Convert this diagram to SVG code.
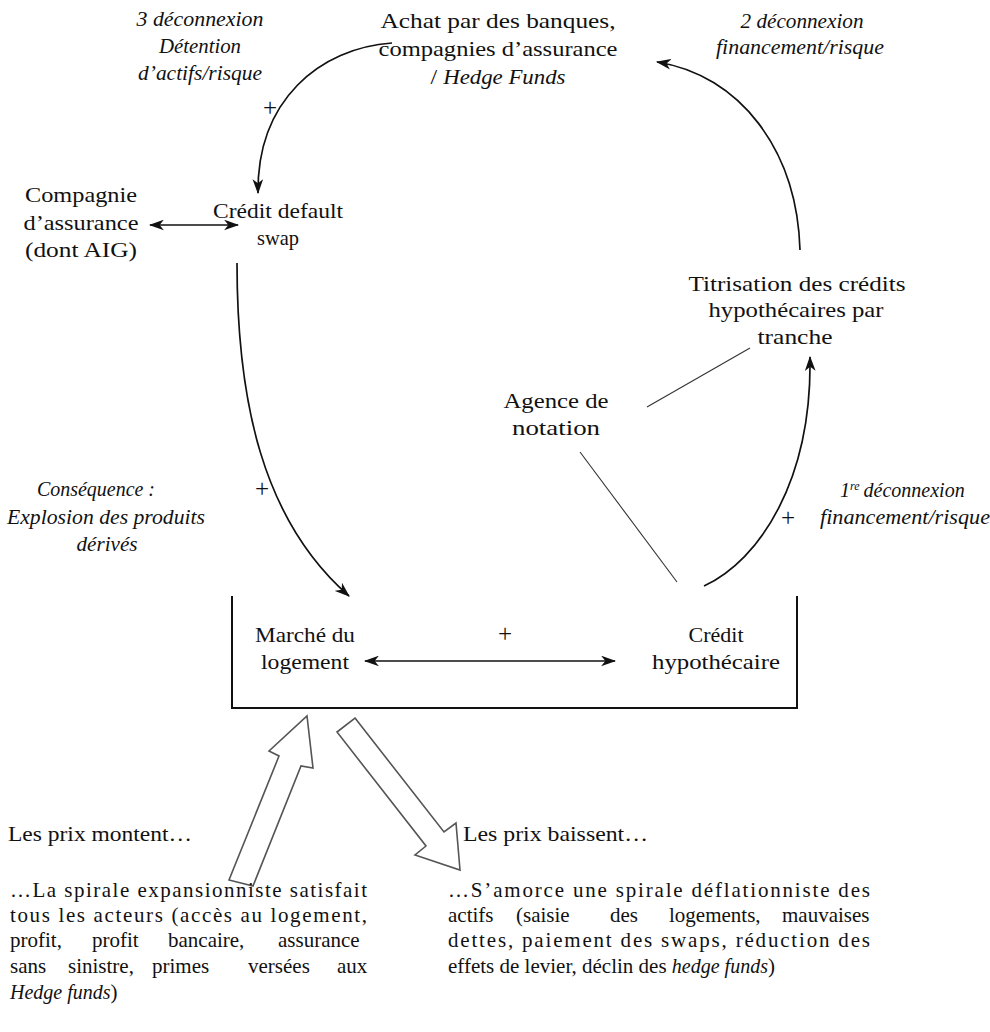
<svg xmlns="http://www.w3.org/2000/svg" width="990" height="1032" viewBox="0 0 990 1032">
<defs>
<style>
text{font-family:"Liberation Serif","Times New Roman",serif;font-size:21px;fill:#111}
.c{text-anchor:middle}
.i{font-style:italic;font-size:20px}
.p{font-size:25px}
.ln{fill:none;stroke:#111;stroke-width:1.7}
.thin{fill:none;stroke:#333;stroke-width:1.1}
.big{fill:#fff;stroke:#555;stroke-width:1.6;stroke-linejoin:miter}
</style>
<marker id="ah" viewBox="0 0 14 10" refX="13" refY="5" markerWidth="15" markerHeight="11" markerUnits="userSpaceOnUse" orient="auto-start-reverse">
<path d="M0,0 L14,5 L0,10 L4,5 z" fill="#111"/>
</marker>
</defs>
<rect width="990" height="1032" fill="#fff"/>

<g id="connectors">
<path class="ln" d="M392,43 C320,48 257,100 258,193" marker-end="url(#ah)"/>
<path class="ln" d="M800,250 C797,150 740,75 657,62" marker-end="url(#ah)"/>
<path class="ln" d="M237,263 C237,400 262,520 349,596" marker-end="url(#ah)"/>
<path class="ln" d="M704,586 C760,560 812,480 810,357" marker-end="url(#ah)"/>
<path class="ln" d="M150,225 L238,225" marker-start="url(#ah)" marker-end="url(#ah)"/>
<path class="ln" d="M365,661 L615,661" marker-start="url(#ah)" marker-end="url(#ah)"/>
<path class="thin" d="M647,407 L750,348"/>
<path class="thin" d="M580,452 L677,582"/>
</g>

<g id="box-marche-credit">
<path d="M232,596 V708 H797 V596" fill="none" stroke="#111" stroke-width="2"/>
</g>

<g id="big-arrows">
<polygon class="big" points="307,716 313,768 301,766 253,886 229,880 279,756 269,751"/>
<polygon class="big" points="355,718 444,832 456,823 460,870 415,855 426,846 337,732"/>
</g>

<g id="label-3e">
<text class="c i" x="200" y="26" textLength="127" lengthAdjust="spacingAndGlyphs">3 déconnexion</text>
<text class="c i" x="200" y="53" textLength="82" lengthAdjust="spacingAndGlyphs">Détention</text>
<text class="c i" x="200" y="80" textLength="124" lengthAdjust="spacingAndGlyphs">d’actifs/risque</text>
<text class="c p" x="270" y="116">+</text>
</g>

<g id="node-achat">
<text class="c" x="498" y="28" textLength="235" lengthAdjust="spacingAndGlyphs">Achat par des banques,</text>
<text class="c" x="498" y="56" textLength="239" lengthAdjust="spacingAndGlyphs">compagnies d’assurance</text>
<text class="c" x="498" y="84" textLength="135" lengthAdjust="spacingAndGlyphs">/ <tspan class="i">Hedge Funds</tspan></text>
</g>

<g id="label-2e">
<text class="c i" x="802" y="28" textLength="123" lengthAdjust="spacingAndGlyphs">2 déconnexion</text>
<text class="c i" x="800" y="54" textLength="168" lengthAdjust="spacingAndGlyphs">financement/risque</text>
</g>

<g id="node-compagnie">
<text class="c" x="81" y="202" textLength="112" lengthAdjust="spacingAndGlyphs">Compagnie</text>
<text class="c" x="81" y="230" textLength="115" lengthAdjust="spacingAndGlyphs">d’assurance</text>
<text class="c" x="81" y="257" textLength="112" lengthAdjust="spacingAndGlyphs">(dont AIG)</text>
</g>

<g id="node-cds">
<text class="c" x="278" y="218" textLength="130" lengthAdjust="spacingAndGlyphs">Crédit default</text>
<text class="c" x="278" y="245" textLength="42" lengthAdjust="spacingAndGlyphs">swap</text>
</g>

<g id="node-titrisation">
<text class="c" x="797" y="291" textLength="217" lengthAdjust="spacingAndGlyphs">Titrisation des crédits</text>
<text class="c" x="796" y="317" textLength="175" lengthAdjust="spacingAndGlyphs">hypothécaires par</text>
<text class="c" x="795" y="344" textLength="75" lengthAdjust="spacingAndGlyphs">tranche</text>
</g>

<g id="node-agence">
<text class="c" x="556" y="408" textLength="105" lengthAdjust="spacingAndGlyphs">Agence de</text>
<text class="c" x="556" y="435" textLength="88" lengthAdjust="spacingAndGlyphs">notation</text>
</g>

<g id="label-1re">
<text class="i" x="840" y="497">1<tspan font-size="12" dy="-7">re</tspan><tspan dy="7" dx="4">déconnexion</tspan></text>
<text class="c i" x="905" y="524" textLength="170" lengthAdjust="spacingAndGlyphs">financement/risque</text>
<text class="c p" x="788" y="526">+</text>
</g>

<g id="label-consequence">
<text class="c i" x="96" y="496" textLength="118" lengthAdjust="spacingAndGlyphs">Conséquence :</text>
<text class="c i" x="106" y="524" textLength="198" lengthAdjust="spacingAndGlyphs">Explosion des produits</text>
<text class="c i" x="107" y="551" textLength="61" lengthAdjust="spacingAndGlyphs">dérivés</text>
<text class="c p" x="262" y="497">+</text>
</g>

<g id="node-marche">
<text class="c" x="305" y="642" textLength="100" lengthAdjust="spacingAndGlyphs">Marché du</text>
<text class="c" x="305" y="669" textLength="88" lengthAdjust="spacingAndGlyphs">logement</text>
</g>

<g id="label-plus-center">
<text class="c p" x="505" y="642">+</text>
</g>

<g id="node-credit">
<text class="c" x="716" y="642" textLength="55" lengthAdjust="spacingAndGlyphs">Crédit</text>
<text class="c" x="716" y="669" textLength="128" lengthAdjust="spacingAndGlyphs">hypothécaire</text>
</g>

<g id="text-hausse">
<text x="8" y="841" textLength="184" lengthAdjust="spacingAndGlyphs">Les prix montent…</text>
<text x="10" y="897" textLength="357" lengthAdjust="spacing">…La spirale expansionniste satisfait</text>
<text x="10" y="922" textLength="357" lengthAdjust="spacing">tous les acteurs (accès au logement,</text>
<text y="947"><tspan x="10">profit,</tspan><tspan x="92">profit</tspan><tspan x="168">bancaire,</tspan><tspan x="278">assurance</tspan></text>
<text y="973"><tspan x="10">sans</tspan><tspan x="68">sinistre,</tspan><tspan x="152">primes</tspan><tspan x="248">versées</tspan><tspan x="337">aux</tspan></text>
<text x="10" y="999"><tspan class="i">Hedge funds</tspan>)</text>
</g>

<g id="text-baisse">
<text x="463" y="841" textLength="185" lengthAdjust="spacingAndGlyphs">Les prix baissent…</text>
<text x="448" y="897" textLength="422" lengthAdjust="spacing">…S’amorce une spirale déflationniste des</text>
<text y="922"><tspan x="448">actifs</tspan><tspan x="516">(saisie</tspan><tspan x="610">des</tspan><tspan x="669">logements,</tspan><tspan x="782">mauvaises</tspan></text>
<text x="448" y="947" textLength="422" lengthAdjust="spacing">dettes, paiement des swaps, réduction des</text>
<text x="448" y="973">effets de levier, déclin des <tspan class="i">hedge funds</tspan>)</text>
</g>
</svg>
